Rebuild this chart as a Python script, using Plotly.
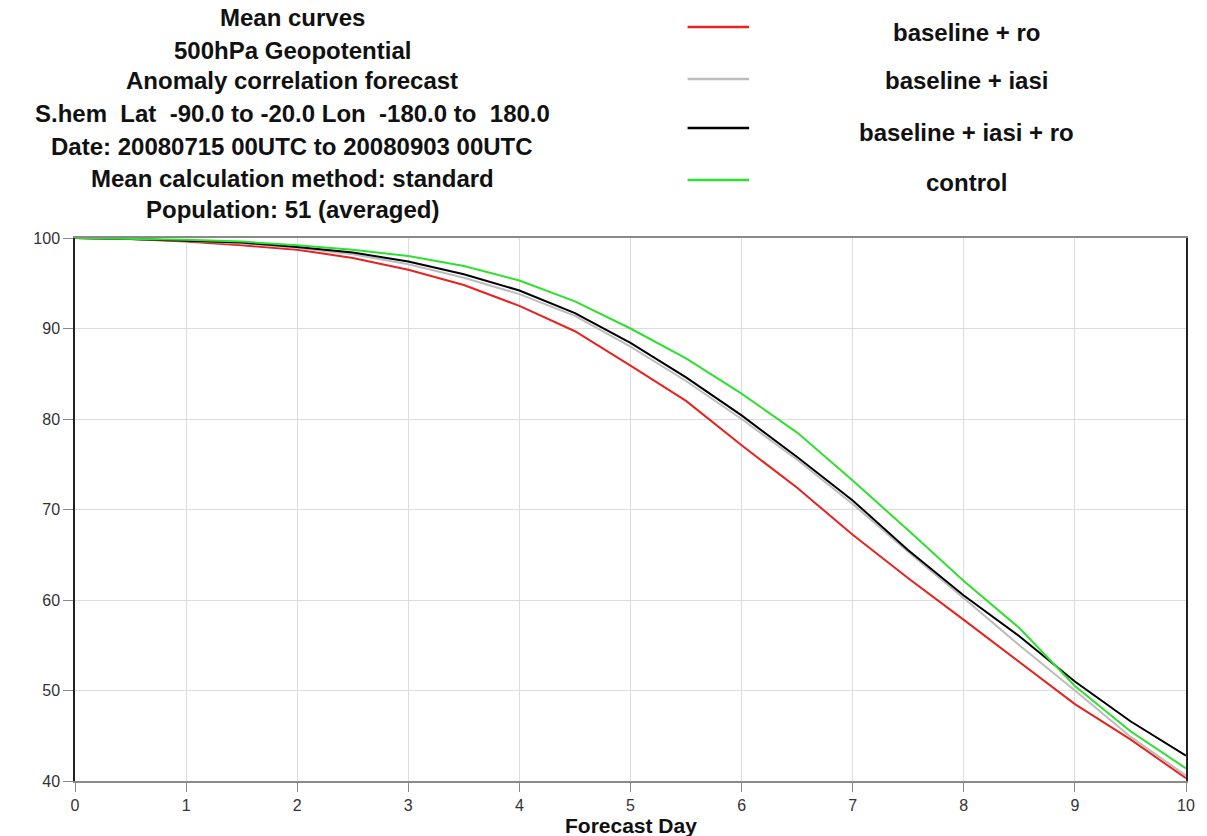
import plotly.graph_objects as go

# Forecast lead time (days) and mean anomaly correlation (%) per experiment
forecast_day = [0, 0.5, 1, 1.5, 2, 2.5, 3, 3.5, 4, 4.5, 5,
                5.5, 6, 6.5, 7, 7.5, 8, 8.5, 9, 9.5, 10]

baseline_ro = [100, 99.9, 99.6, 99.2, 98.7, 97.8, 96.5, 94.8, 92.5, 89.7, 85.9,
               82.0, 77.1, 72.4, 67.2, 62.4, 57.8, 53.1, 48.5, 44.6, 40.3]
baseline_iasi = [100, 99.9, 99.7, 99.4, 98.9, 98.2, 97.1, 95.6, 93.8, 91.4, 88.0,
                 84.2, 80.0, 75.5, 70.6, 65.3, 60.2, 55.0, 50.0, 44.9, 40.6]
baseline_iasi_ro = [100, 99.9, 99.7, 99.5, 99.0, 98.4, 97.4, 96.0, 94.2, 91.7, 88.4,
                    84.6, 80.4, 75.8, 71.0, 65.5, 60.5, 56.0, 51.0, 46.6, 42.8]
control = [100, 99.9, 99.8, 99.6, 99.2, 98.7, 98.0, 96.9, 95.3, 93.0, 90.0,
           86.7, 82.8, 78.5, 73.2, 67.7, 62.1, 56.9, 50.5, 45.5, 41.4]

series_names = ["baseline + ro", "baseline + iasi", "baseline + iasi + ro", "control"]
series_values = [baseline_ro, baseline_iasi, baseline_iasi_ro, control]
series_colors = ["#e8221e", "#bcbcbc", "#000000", "#2fe02f"]

title_lines = [
    "Mean curves",
    "500hPa Geopotential",
    "Anomaly correlation forecast",
    "S.hem  Lat  -90.0 to -20.0 Lon  -180.0 to  180.0",
    "Date: 20080715 00UTC to 20080903 00UTC",
    "Mean calculation method: standard",
    "Population: 51 (averaged)",
]

x_ticks = [0, 1, 2, 3, 4, 5, 6, 7, 8, 9, 10]
y_ticks = [40, 50, 60, 70, 80, 90, 100]

W, H = 1207, 836
L, R, T, B = 75, 1194, 238, 781  # plot area edges in pixels
FONT = "Liberation Sans, Arial, sans-serif"


def px(xp):
    return (xp - L) / (R - L)


def py(yp):
    return (B - yp) / (B - T)


fig = go.Figure()
for name, vals, col in zip(series_names, series_values, series_colors):
    fig.add_trace(go.Scatter(x=forecast_day, y=vals, mode="lines", name=name,
                             line=dict(color=col, width=2), showlegend=False))

annotations = []
shapes = []

# multi-line heading, centred over the left half
title_y = [18, 50, 81, 113, 146, 178, 209]
for text, yy in zip(title_lines, title_y):
    annotations.append(dict(text=text, xref="paper", yref="paper", x=px(294), y=py(yy),
                            xanchor="center", yanchor="middle", showarrow=False,
                            font=dict(family=FONT, size=24, color="#111111", weight="bold")))

# key: short line sample on the left, label centred on the right
key_line_y = [27, 79, 128, 180]
key_text_y = [32, 81, 132, 183]
for name, col, ly, ty in zip(series_names, series_colors, key_line_y, key_text_y):
    shapes.append(dict(type="line", xref="paper", yref="paper",
                       x0=px(692), x1=px(754), y0=py(ly), y1=py(ly),
                       line=dict(color=col, width=2.5)))
    annotations.append(dict(text=name, xref="paper", yref="paper", x=px(973), y=py(ty),
                            xanchor="center", yanchor="middle", showarrow=False,
                            font=dict(family=FONT, size=24, color="#111111", weight="bold")))

# x-axis title
annotations.append(dict(text="Forecast Day", xref="paper", yref="paper", x=0.5, y=py(825),
                        xanchor="center", yanchor="middle", showarrow=False,
                        font=dict(family=FONT, size=21, color="#111111", weight="bold")))

fig.update_layout(
    width=W, height=H,
    margin=dict(l=L, r=W - R, t=T, b=H - B, pad=0),
    paper_bgcolor="white", plot_bgcolor="white",
    annotations=annotations, shapes=shapes,
    showlegend=False,
    xaxis=dict(range=[0, 10], tickvals=x_ticks, ticktext=[str(v) for v in x_ticks],
               showgrid=True, gridcolor="#dddddd", gridwidth=1,
               showline=True, linecolor="#8a8a8a", linewidth=2, mirror=True,
               ticks="outside", ticklen=9, tickcolor="#8a8a8a", tickwidth=1,
               tickfont=dict(family=FONT, size=16, color="#333333"),
               zeroline=False),
    yaxis=dict(range=[40, 100], tickvals=y_ticks, ticktext=[str(v) for v in y_ticks],
               showgrid=True, gridcolor="#dddddd", gridwidth=1,
               showline=True, linecolor="#222222", linewidth=1.5, mirror=True,
               ticks="outside", ticklen=10, tickcolor="#8a8a8a", tickwidth=1,
               tickfont=dict(family=FONT, size=16, color="#333333"),
               zeroline=False),
)

fig.write_html("out.html")
